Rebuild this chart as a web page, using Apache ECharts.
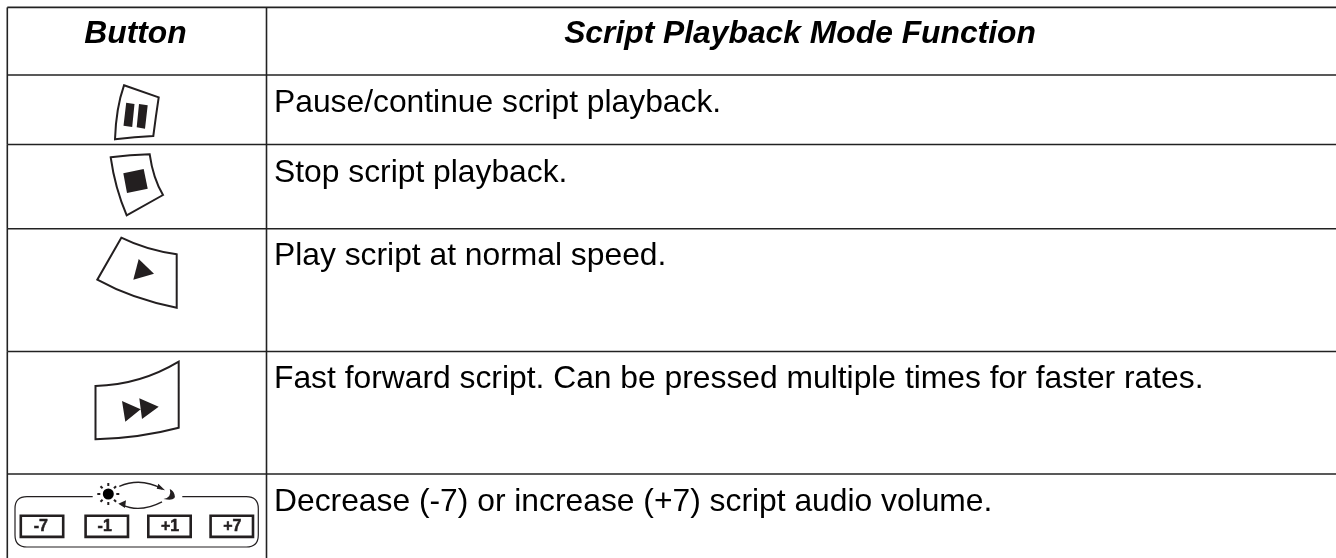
<!doctype html>
<html lang="en">
<head>
<meta charset="utf-8">
<title>Script Playback Mode</title>
<script src="https://cdnjs.cloudflare.com/ajax/libs/echarts/6.0.0/echarts.min.js"></script>
<style>
html, body { margin: 0; padding: 0; background: #fff; overflow: hidden; }
#main { width: 1336px; height: 558px; }
</style>
</head>
<body>
<div id="main"></div>
<script type="text/javascript">
// table content
var columnTitles = ['Button', 'Script Playback Mode Function'];
var rowFunctions = [
    'Pause/continue script playback.',
    'Stop script playback.',
    'Play script at normal speed.',
    'Fast forward script. Can be pressed multiple times for faster rates.',
    'Decrease (-7) or increase (+7) script audio volume.'
];
var volumeLabels = ['-7', '-1', '+1', '+7'];

// icon outlines, in axis units (the axes are one unit per pixel)
var iconOutlines = [
    'M124 85.3L158.7 97.3Q156 115 153.3 136Q135 137 115 139.3Q116 108 124 85.3Z',
    'M110.7 157.3Q130 155 149.7 154.3Q153 178 163 195L126.7 215.3Q115 188 110.7 157.3Z',
    'M121.3 237.7Q146 250 176.7 254.3L176.7 307.7Q132 299 97.3 279.7Z',
    'M95.5 386Q140 385 178.7 361.7L178.7 427.7Q140 438 95.5 439.3Z'
];
var iconFills = [
    'M126.2 102.7L134.5 104L132.2 127L123.5 125.7ZM139 104L147.7 105.3L145 128.7L136.7 127.3Z',
    'M123.3 173.3L143.7 169L147.7 188.7L127 193Z',
    'M138.7 259L154 273.7L133.3 279.7Z',
    'M122 401L140.7 409.3L125.3 421.7ZM139.3 398.3L158.7 406.7L142 419Z'
];
var volumeFrame = 'M92.7 496.7L27 496.7Q15 496.7 15 508.7L15 535Q15 547 27 547L246.3 547Q258.3 547 258.3 535L258.3 508.7Q258.3 496.7 246.3 496.7L182.3 496.7';
var volumeArrows = 'M119.3 486.3Q141 477 162 488.8M162 501.8Q140 513.2 122 504.8';
var volumeArrowHeads = 'M165 490.3L158.3 483.7L156.7 488.7ZM118.3 503.7L126 500.3L125 508Z';
var volumeRays = 'M108.3 483L108.3 486M108.3 502L108.3 505M97.3 494L100.3 494M116.3 494L119.3 494M100.5 486.2L102.6 488.3M114 499.7L116.1 501.8M100.5 501.8L102.6 499.7M114 488.3L116.1 486.2';
var volumeMoon = 'M169.8 489Q172 497.5 163.5 499Q177 501.5 174.5 494.5Q173.5 490.5 169.8 489Z';
var volumeButtonLeft = [19.5, 84.3, 147, 209.3];
var volumeLabelCenter = [40.8, 104.7, 170, 232.3];

// layout
var columnEdges = [7.3, 266.5, 1336];
var rowEdges = [7.4, 75, 144.5, 228.8, 351.5, 474, 558];
var textOffsets = [28, 29, 27.5, 28, 28];
var headerFont = 'italic bold 31.8px "Liberation Sans"';
var bodyFont = '31.8px "Liberation Sans"';

var myChart = echarts.init(document.getElementById('main'), null, { renderer: 'canvas' });

function renderRow(params, api) {
    var r = api.value(0);
    var children = [];

    function at(x, y) {
        return api.coord([x, y]);
    }
    function rule(x1, y1, x2, y2) {
        var a = at(x1, y1), b = at(x2, y2);
        children.push({
            type: 'line',
            shape: { x1: a[0], y1: a[1], x2: b[0], y2: b[1] },
            style: { stroke: '#222', lineWidth: 1.6 }
        });
    }
    function label(text, x, y, font, align, color, heavy) {
        var p = at(x, y);
        children.push({
            type: 'text',
            style: {
                text: text, x: p[0], y: p[1], font: font, fill: color || '#000', align: align, verticalAlign: 'middle',
                stroke: heavy ? color : null, lineWidth: heavy ? 0.5 : 0
            }
        });
    }
    function outline(d, w) {
        children.push({ type: 'path', shape: { pathData: d }, style: { fill: null, stroke: '#231f20', lineWidth: w } });
    }
    function solid(d) {
        children.push({ type: 'path', shape: { pathData: d }, style: { fill: '#231f20' } });
    }

    // rows: -1 is the header
    var top = rowEdges[r + 1], bottom = rowEdges[r + 2];
    rule(columnEdges[0], top, columnEdges[0], bottom);
    rule(columnEdges[1], top, columnEdges[1], bottom);
    rule(columnEdges[0], top, columnEdges[2], top);
    if (r === -1) {
        label(columnTitles[0], 135.5, 34.7, headerFont, 'center');
        label(columnTitles[1], 800, 34.7, headerFont, 'center');
    } else {
        label(rowFunctions[r], 274, top + textOffsets[r], bodyFont, 'left');
    }
    if (r >= 0 && r < iconOutlines.length) {
        outline(iconOutlines[r], 2);
        solid(iconFills[r]);
    }
    if (r === 4) {
        outline(volumeFrame, 1.2);
        outline(volumeArrows, 1.4);
        solid(volumeArrowHeads);
        outline(volumeRays, 2);
        solid(volumeMoon);
        var c = at(108.3, 494);
        children.push({ type: 'circle', shape: { cx: c[0], cy: c[1], r: 5.5 }, style: { fill: '#000' } });
        volumeLabels.forEach(function (t, i) {
            var x = volumeButtonLeft[i];
            children.push({
                type: 'rect',
                shape: { x: at(x, 0)[0] + 1.3, y: at(0, 515.8)[1], width: 42.4, height: 21.1 },
                style: { fill: '#fff', stroke: '#231f20', lineWidth: 2.6 }
            });
            label(t, volumeLabelCenter[i], 526.5, 'bold 16px "Liberation Sans"', 'center', '#231f20', true);
        });
    }
    return { type: 'group', children: children };
}

var rowIndexes = [-1].concat(rowFunctions.map(function (t, i) { return i; }));

myChart.setOption({
    animation: false,
    backgroundColor: '#fff',
    grid: { left: 0, right: 0, top: 0, bottom: 0 },
    xAxis: { type: 'value', min: 0, max: 1336, show: false },
    yAxis: { type: 'value', min: 0, max: 558, inverse: true, show: false },
    series: [{
        type: 'custom',
        coordinateSystem: 'cartesian2d',
        clip: false,
        renderItem: renderRow,
        encode: { x: 1, y: 2 },
        data: rowIndexes.map(function (r) { return [r, 0, rowEdges[r + 1]]; })
    }]
});
</script>
</body>
</html>
